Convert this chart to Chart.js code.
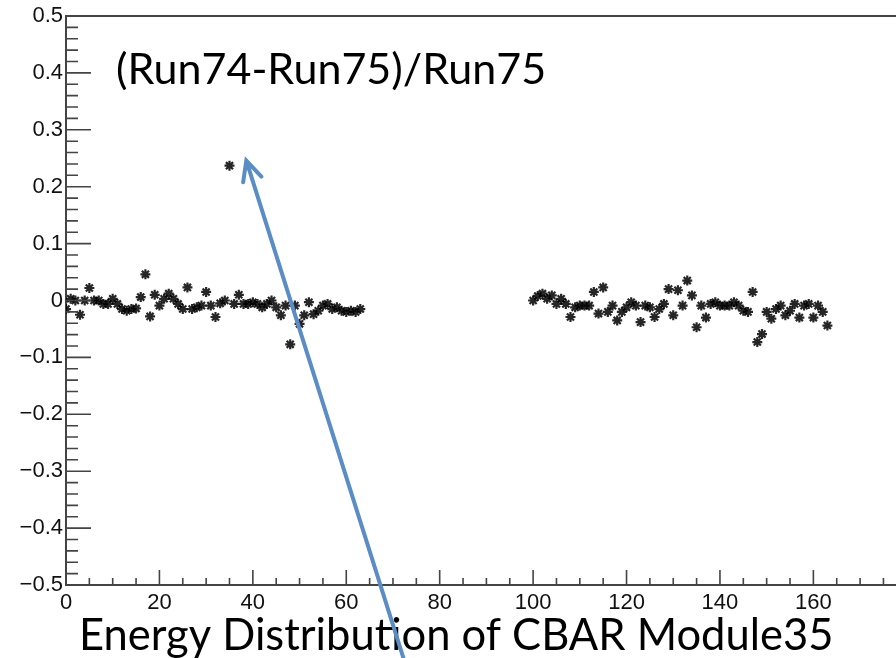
<!DOCTYPE html>
<html>
<head>
<meta charset="utf-8">
<script src="https://cdn.jsdelivr.net/npm/chart.js@4.4.1/dist/chart.umd.min.js"></script>
<style>
  html, body { margin: 0; padding: 0; background: #fff; overflow: hidden; }
  #plot { position: absolute; left: 0; top: 0; }
</style>
</head>
<body>
<canvas id="plot" width="914" height="658"></canvas>
<script>
// channels and ratio values
const chLeft = [0,1,2,3,4,5,6,7,8,9,10,11,12,13,14,15,16,17,18,19,20,21,22,23,24,25,26,27,28,29,30,31,
                32,33,34,35,36,37,38,39,40,41,42,43,44,45,46,47,48,49,50,51,52,53,54,55,56,57,58,59,60,61,62,63];
const ratioLeft = [-0.015,0.003,0,-0.025,0,0.022,0,0,-0.006,-0.006,0.003,-0.006,-0.015,-0.018,-0.015,-0.014,
                   0.006,0.046,-0.028,0.01,-0.009,0.003,0.012,0.003,-0.006,-0.015,0.023,-0.015,-0.012,-0.009,0.015,-0.009,
                   -0.029,-0.005,0,0.237,-0.006,0.01,-0.006,-0.006,-0.003,-0.006,-0.012,-0.006,0,-0.012,-0.026,-0.009,
                   -0.077,-0.009,-0.041,-0.026,-0.003,-0.024,-0.018,-0.009,-0.006,-0.015,-0.012,-0.018,-0.02,-0.018,-0.02,-0.015];
const chRight = [100,101,102,103,104,105,106,107,108,109,110,111,112,113,114,115,116,117,118,119,120,121,122,123,124,125,126,127,
                 128,129,130,131,132,133,134,135,136,137,138,139,140,141,142,143,144,145,146,147,148,149,150,151,152,153,154,155,
                 156,157,158,159,160,161,162,163];
const ratioRight = [0,0.008,0.012,0.003,0.009,-0.006,0.003,-0.006,-0.029,-0.012,-0.009,-0.009,-0.009,0.015,-0.023,0.023,
                    -0.02,-0.009,-0.035,-0.02,-0.012,-0.003,-0.009,-0.038,-0.009,-0.012,-0.029,-0.015,-0.006,0.02,-0.026,0.018,
                    -0.009,0.035,0.009,-0.047,-0.009,-0.03,-0.006,-0.003,-0.009,-0.009,-0.009,-0.003,-0.009,-0.018,-0.02,0.015,
                    -0.073,-0.059,-0.02,-0.032,-0.015,-0.009,-0.026,-0.018,-0.006,-0.03,-0.009,-0.006,-0.03,-0.009,-0.02,-0.044];

// the 180 label falls outside the picture
const xTicks = [0,20,40,60,80,100,120,140,160];
const yTicks = [-0.5,-0.4,-0.3,-0.2,-0.1,0,0.1,0.2,0.3,0.4,0.5];

const innerTitle = "(Run74-Run75)/Run75";
const slideCaption = "Energy Distribution of CBAR Module35";
// arrow, in data units: tail below the axis, head next to the outlier
const arrowFrom = { x: 72.3, y: -0.63 };
const arrowTo = { x: 38.6, y: 0.246 };

function pairs(xs, ys) {
  return xs.map(function (x, i) { return { x: x, y: ys[i] }; });
}

const labelFont = { family: "'Liberation Sans', Arial, sans-serif", size: 22 };

// ROOT style frame: inward ticks + top border, plus the slide annotations
const rootFrame = {
  id: 'rootFrame',
  afterDraw: function (chart) {
    const ctx = chart.ctx;
    const a = chart.chartArea;
    const xs = chart.scales.x, ys = chart.scales.y;
    ctx.save();
    ctx.strokeStyle = '#444';
    ctx.lineWidth = 2;
    ctx.beginPath();
    ctx.moveTo(a.left, a.top);
    ctx.lineTo(a.right, a.top);
    ctx.stroke();

    ctx.lineWidth = 1.6;
    ctx.beginPath();
    for (let v = 0; v <= 180; v += 5) {
      const px = xs.getPixelForValue(v);
      const len = (v % 20 === 0) ? 15 : 7;
      ctx.moveTo(px, a.bottom);
      ctx.lineTo(px, a.bottom - len);
    }
    for (let k = -25; k <= 25; k++) {
      const py = ys.getPixelForValue(k * 0.02);
      const len = (k % 5 === 0) ? 25 : 12;
      ctx.moveTo(a.left, py);
      ctx.lineTo(a.left + len, py);
    }
    ctx.stroke();

    ctx.fillStyle = '#000';
    ctx.textBaseline = 'alphabetic';
    ctx.font = "43px Lato, 'Open Sans', sans-serif";
    ctx.fillText(innerTitle, 116, 84);
    ctx.font = "43.5px Lato, 'Open Sans', sans-serif";
    ctx.fillText(slideCaption, 79, 650);

    const x1 = xs.getPixelForValue(arrowFrom.x), y1 = ys.getPixelForValue(arrowFrom.y);
    const x2 = xs.getPixelForValue(arrowTo.x), y2 = ys.getPixelForValue(arrowTo.y);
    const ang = Math.atan2(y2 - y1, x2 - x1);
    ctx.strokeStyle = '#5a8cc6';
    ctx.lineWidth = 4;
    ctx.lineCap = 'round';
    ctx.beginPath();
    ctx.moveTo(x1, y1);
    ctx.lineTo(x2, y2);
    ctx.moveTo(x2 + 22 * Math.cos(ang + Math.PI - 0.45), y2 + 22 * Math.sin(ang + Math.PI - 0.45));
    ctx.lineTo(x2, y2);
    ctx.lineTo(x2 + 22 * Math.cos(ang + Math.PI + 0.45), y2 + 22 * Math.sin(ang + Math.PI + 0.45));
    ctx.stroke();
    ctx.restore();
  }
};

const starStyle = {
  pointStyle: 'star',
  pointRadius: 5,
  pointBorderWidth: 2.2,
  pointBorderColor: 'rgba(0,0,0,0.85)',
  pointBackgroundColor: 'rgba(0,0,0,0.85)',
  showLine: false
};

new Chart(document.getElementById('plot'), {
  type: 'scatter',
  data: {
    datasets: [
      Object.assign({ label: 'ch 0-63', data: pairs(chLeft, ratioLeft) }, starStyle),
      Object.assign({ label: 'ch 100-163', data: pairs(chRight, ratioRight) }, starStyle)
    ]
  },
  options: {
    responsive: false,
    animation: false,
    layout: { padding: { top: 16, right: 0, left: 0, bottom: 0 } },
    plugins: {
      legend: { display: false },
      tooltip: { enabled: false }
    },
    scales: {
      x: {
        type: 'linear',
        min: 0,
        max: 180,
        afterBuildTicks: function (s) { s.ticks = xTicks.map(function (v) { return { value: v }; }); },
        afterFit: function (s) { s.height = 73; s.paddingLeft = 0; s.paddingRight = 0; },
        grid: { display: false, drawTicks: false },
        border: { display: true, color: '#444', width: 2 },
        ticks: { padding: 5, color: '#111', font: labelFont, maxRotation: 0, autoSkip: false }
      },
      y: {
        type: 'linear',
        min: -0.5,
        max: 0.5,
        afterBuildTicks: function (s) { s.ticks = yTicks.map(function (v) { return { value: v }; }); },
        afterFit: function (s) { s.width = 66; s.paddingTop = 0; s.paddingBottom = 0; },
        grid: { display: false, drawTicks: false },
        border: { display: true, color: '#444', width: 2 },
        ticks: {
          padding: 3,
          color: '#111',
          font: labelFont,
          autoSkip: false,
          callback: function (v) {
            if (Math.abs(v) < 1e-9) return '0';
            return (v < 0 ? '\u2212' : '') + Math.abs(v).toFixed(1);
          }
        }
      }
    }
  },
  plugins: [rootFrame]
});
</script>
</body>
</html>
